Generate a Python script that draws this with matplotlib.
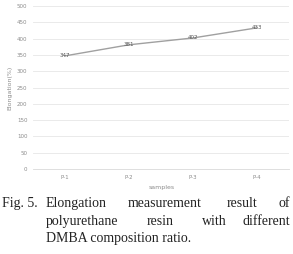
import matplotlib.pyplot as plt

samples = ["P-1", "P-2", "P-3", "P-4"]
elongation = [347, 381, 402, 433]
yticks = [0, 50, 100, 150, 200, 250, 300, 350, 400, 450, 500]

# caption words laid out as in the justified print (x in pixels, line index)
caption_words = [
    ("Fig. 5.", 2, 0, "left"),
    ("Elongation", 46, 0, "left"),
    ("measurement", 128, 0, "left"),
    ("result", 227, 0, "left"),
    ("of", 290, 0, "right"),
    ("polyurethane", 46, 1, "left"),
    ("resin", 147, 1, "left"),
    ("with", 202, 1, "left"),
    ("different", 290, 1, "right"),
    ("DMBA composition ratio.", 46, 2, "left"),
]

W, H = 293, 254
fig = plt.figure(figsize=(W / 100, H / 100), dpi=100)
ax = fig.add_axes([33 / W, 85 / H, 256 / W, 163 / H])

grey = "#8c8c8c"
x = range(len(samples))
ax.plot(x, elongation, color="#a0a0a0", linewidth=1.0, zorder=3)
for xi, v in zip(x, elongation):
    ax.text(xi, v, str(v), fontsize=4, color="#555555", ha="center", va="center", zorder=4)

ax.set_xlim(-0.5, len(samples) - 0.5)
ax.set_ylim(0, 500)
ax.set_yticks(yticks)
ax.set_xticks(list(x))
ax.set_xticklabels(samples)
ax.tick_params(axis="both", length=0, labelsize=4, labelcolor=grey, pad=4)
ax.grid(axis="y", color="#e6e6e6", linewidth=0.6)
ax.set_axisbelow(True)
for s in ["top", "right", "left"]:
    ax.spines[s].set_visible(False)
ax.spines["bottom"].set_color("#d9d9d9")
ax.spines["bottom"].set_linewidth(0.6)

ax.set_ylabel("Elongation(%)", fontsize=4.5, color=grey, labelpad=3)
fig.text(162 / W, 1 - 188 / H, "samples", fontsize=4.5, color=grey, ha="center", va="center")

line_base = [207, 225, 242]
for word, px, line, ha in caption_words:
    fig.text(px / W, 1 - line_base[line] / H, word, fontsize=10, family="Liberation Serif",
             color="#222222", ha=ha, va="baseline")

fig.savefig("out.png", dpi=100)
